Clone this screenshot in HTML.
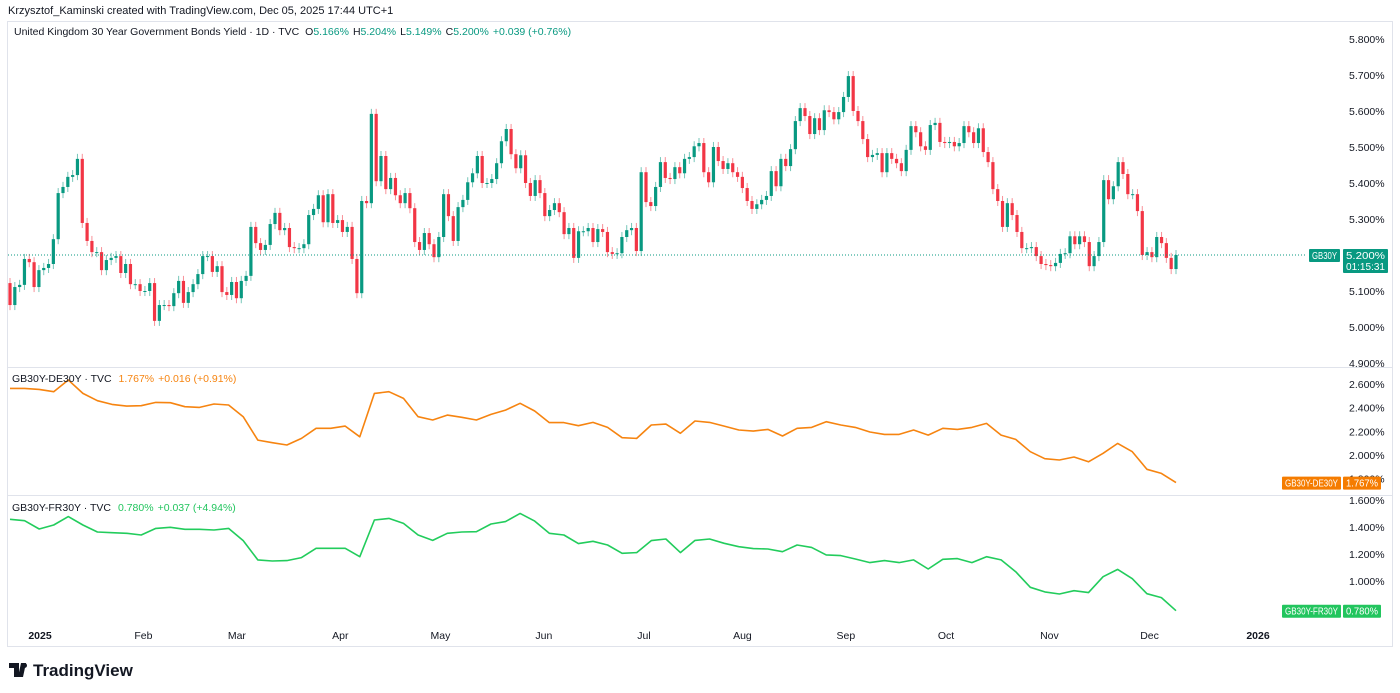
<!DOCTYPE html>
<html><head><meta charset="utf-8"><style>
html,body{margin:0;padding:0;background:#fff;}
svg{display:block;font-family:"Liberation Sans",sans-serif;}
</style></head><body>
<svg id="chart" width="1400" height="693" viewBox="0 0 1400 693" xmlns="http://www.w3.org/2000/svg">
<text x="8" y="14" font-size="11" fill="#131722">Krzysztof_Kaminski created with TradingView.com, Dec 05, 2025 17:44 UTC+1</text>
<rect x="7.5" y="21.5" width="1385" height="625" fill="#fff" stroke="#e0e3eb"/>
<line x1="8" y1="367.5" x2="1392" y2="367.5" stroke="#e0e3eb"/>
<line x1="8" y1="495.5" x2="1392" y2="495.5" stroke="#e0e3eb"/>
<g id="price-axis"></g>
<g id="candles"></g>
<g id="lines"></g>
<g id="time-axis"></g>
<g id="tags"></g>
<text x="14" y="35" font-size="10.5" fill="#131722">United Kingdom 30 Year Government Bonds Yield · 1D · TVC  <tspan dx="3">O</tspan><tspan fill="#089981">5.166%</tspan><tspan dx="4">H</tspan><tspan fill="#089981">5.204%</tspan><tspan dx="4">L</tspan><tspan fill="#089981">5.149%</tspan><tspan dx="4">C</tspan><tspan fill="#089981">5.200%</tspan><tspan dx="4" fill="#089981">+0.039 (+0.76%)</tspan></text>
<text x="12" y="382" font-size="10.5" fill="#131722">GB30Y-DE30Y · TVC <tspan dx="4" fill="#f68410">1.767%</tspan><tspan dx="4" fill="#f68410">+0.016 (+0.91%)</tspan></text>
<text x="12" y="511" font-size="10.5" fill="#131722">GB30Y-FR30Y · TVC <tspan dx="4" fill="#22c55e">0.780%</tspan><tspan dx="4" fill="#22c55e">+0.037 (+4.94%)</tspan></text>
<g>
<path d="M9 663h10v14h-5v-9H9z M21 663h5l-3 14h-5z" fill="#131722"/>
<circle cx="24.5" cy="665.5" r="2.5" fill="#131722"/>
<text x="33" y="676" font-size="17" font-weight="bold" fill="#131722">TradingView</text>
</g>
</svg>
<script>
const closes=[5.061,5.111,5.117,5.189,5.180,5.111,5.158,5.164,5.175,5.244,5.372,5.389,5.417,5.422,5.467,5.289,5.239,5.208,5.208,5.158,5.186,5.192,5.197,5.150,5.175,5.119,5.119,5.100,5.100,5.122,5.017,5.061,5.061,5.058,5.094,5.128,5.067,5.097,5.119,5.147,5.197,5.197,5.153,5.169,5.097,5.089,5.125,5.080,5.128,5.142,5.278,5.233,5.214,5.228,5.286,5.317,5.269,5.275,5.222,5.219,5.219,5.230,5.311,5.328,5.366,5.291,5.369,5.289,5.297,5.264,5.278,5.189,5.094,5.350,5.344,5.592,5.405,5.475,5.383,5.414,5.366,5.344,5.372,5.330,5.236,5.214,5.261,5.230,5.194,5.250,5.369,5.308,5.239,5.333,5.353,5.402,5.427,5.475,5.400,5.400,5.411,5.455,5.516,5.550,5.480,5.441,5.477,5.400,5.364,5.408,5.372,5.308,5.325,5.344,5.319,5.258,5.275,5.192,5.266,5.266,5.275,5.236,5.272,5.264,5.208,5.203,5.205,5.250,5.269,5.275,5.211,5.430,5.347,5.336,5.389,5.458,5.414,5.411,5.444,5.427,5.467,5.472,5.502,5.511,5.430,5.402,5.500,5.461,5.439,5.455,5.430,5.417,5.386,5.350,5.328,5.341,5.353,5.364,5.433,5.391,5.467,5.447,5.494,5.572,5.608,5.586,5.536,5.580,5.547,5.602,5.597,5.577,5.597,5.639,5.697,5.600,5.572,5.522,5.472,5.478,5.483,5.430,5.483,5.467,5.455,5.433,5.492,5.558,5.541,5.502,5.492,5.561,5.567,5.514,5.511,5.514,5.502,5.511,5.558,5.541,5.511,5.552,5.486,5.458,5.383,5.350,5.278,5.344,5.311,5.264,5.219,5.219,5.222,5.197,5.175,5.172,5.169,5.178,5.203,5.205,5.252,5.230,5.252,5.236,5.169,5.197,5.236,5.408,5.355,5.391,5.458,5.425,5.369,5.369,5.322,5.200,5.208,5.194,5.250,5.233,5.192,5.161,5.200];
const firstOpen=5.122;
const deSpread=[2.562,2.562,2.554,2.534,2.633,2.520,2.458,2.427,2.413,2.416,2.444,2.441,2.408,2.402,2.430,2.422,2.323,2.126,2.104,2.084,2.140,2.225,2.225,2.244,2.154,2.520,2.534,2.478,2.323,2.295,2.337,2.318,2.295,2.343,2.379,2.436,2.371,2.273,2.273,2.247,2.275,2.233,2.146,2.140,2.253,2.261,2.183,2.287,2.275,2.244,2.211,2.202,2.216,2.160,2.225,2.233,2.281,2.253,2.233,2.194,2.174,2.174,2.211,2.168,2.225,2.216,2.233,2.267,2.168,2.132,2.028,1.969,1.958,1.983,1.943,2.014,2.098,2.028,1.879,1.845,1.767];
const frSpread=[1.457,1.447,1.385,1.415,1.477,1.415,1.363,1.358,1.353,1.341,1.390,1.398,1.383,1.383,1.378,1.390,1.299,1.156,1.148,1.151,1.173,1.242,1.242,1.242,1.180,1.452,1.464,1.427,1.341,1.301,1.353,1.363,1.365,1.422,1.440,1.501,1.444,1.353,1.341,1.277,1.294,1.267,1.205,1.210,1.299,1.311,1.210,1.301,1.311,1.279,1.254,1.240,1.237,1.217,1.267,1.249,1.193,1.188,1.163,1.136,1.151,1.136,1.156,1.089,1.161,1.166,1.136,1.180,1.156,1.069,0.953,0.919,0.904,0.928,0.914,1.032,1.086,1.017,0.906,0.877,0.780];
const ticks1=["5.800%","5.700%","5.600%","5.500%","5.400%","5.300%","5.200%","5.100%","5.000%","4.900%"];
const ticks1v=[5.8,5.7,5.6,5.5,5.4,5.3,5.2,5.1,5.0,4.9];
const ticks2v=[2.6,2.4,2.2,2.0,1.8];
const ticks3v=[1.6,1.4,1.2,1.0];
const monthLabels=["2025","Feb","Mar","Apr","May","Jun","Jul","Aug","Sep","Oct","Nov","Dec","2026"];
const monthDays=[0,31,59,90,120,151,181,212,243,273,304,334,365];

const NS="http://www.w3.org/2000/svg";
function mk(tag,attrs,parent){const e=document.createElementNS(NS,tag);for(const k in attrs)e.setAttribute(k,attrs[k]);parent.appendChild(e);return e;}
const n=closes.length;
const xBar=i=>10+i*(1176-10)/(n-1);
const y1=v=>327-(v-5)*360;
const y2=v=>455-(v-2)*118.5;
const y3=v=>581-(v-1)*135;
const xDay=d=>40+d*(1258-40)/365-(d>200&&d<360?5:0);

const cg=document.getElementById('candles');
for(let i=0;i<n;i++){
  const o=i===0?firstOpen:closes[i-1], c=closes[i];
  const up=c>=o, col=up?'#089981':'#f23645';
  const hi=Math.max(o,c)+0.014, lo=Math.min(o,c)-0.014;
  const x=xBar(i);
  const w=mk('line',{x1:x,x2:x,y1:y1(hi),y2:y1(lo),stroke:col,'stroke-width':1,opacity:0.55},cg);
  
  
  const top=y1(Math.max(o,c)), h=Math.max(1,y1(Math.min(o,c))-top);
  const b=mk('rect',{x:x-1.6,y:top,width:3.2,height:h,fill:col},cg);
  
  
}
const lg=document.getElementById('lines');
function linePath(arr,yf){const step=(n-1)/(arr.length-1);return arr.map((v,k)=>(k?'L':'M')+xBar(k*step).toFixed(1)+' '+yf(v).toFixed(1)).join(' ');}
const l1=mk('path',{d:linePath(deSpread,y2),fill:'none',stroke:'#f68410','stroke-width':1.6,'stroke-linejoin':'round'},lg);


const l2=mk('path',{d:linePath(frSpread,y3),fill:'none',stroke:'#22cc5c','stroke-width':1.6,'stroke-linejoin':'round'},lg);


const last=mk('line',{x1:8,x2:1305,y1:y1(closes[n-1]),y2:y1(closes[n-1]),stroke:'#089981','stroke-dasharray':'1 2','stroke-width':1},lg);



const pa=document.getElementById('price-axis');
function tick(v,y,lbl){const t=mk('text',{x:1349,y:y+4,'font-size':10.5,fill:'#131722'},pa);t.textContent=lbl;

}
ticks1v.forEach((v,i)=>tick(v,y1(v),ticks1[i]));
ticks2v.forEach(v=>tick(v,y2(v),v.toFixed(3)+'%'));
ticks3v.forEach(v=>tick(v,y3(v),v.toFixed(3)+'%'));

const ta=document.getElementById('time-axis');
monthLabels.forEach((m,i)=>{const t=mk('text',{x:xDay(monthDays[i]),y:639,'font-size':10.5,fill:'#131722','text-anchor':'middle','font-weight':(m.length===4?'bold':'normal')},ta);t.textContent=m;

});

const tg=document.getElementById('tags');
function tag(x,y,w,h,col,txt,nm){const r=mk('rect',{x:x,y:y,width:w,height:h,fill:col,rx:1},tg);

txt.forEach((s,i)=>{const t=mk('text',{x:x+3,y:y+10+i*11,'font-size':10,fill:'#fff',textLength:w-6,lengthAdjust:'spacingAndGlyphs'},tg);t.textContent=s;});}
const yl=y1(closes[n-1]);
tag(1309,yl-6,31,13,'#089981',['GB30Y'],'symbol-tag');
tag(1343,yl-6,45,24,'#089981',['5.200%','01:15:31'],'last-price-tag');
const yd=y2(deSpread[deSpread.length-1]);
tag(1282,yd-6,59,13,'#f57c00',['GB30Y-DE30Y'],'de-symbol-tag');
tag(1343,yd-6,38,13,'#f57c00',['1.767%'],'de-price-tag');
const yf=y3(frSpread[frSpread.length-1]);
tag(1282,yf-6,59,13,'#22c55e',['GB30Y-FR30Y'],'fr-symbol-tag');
tag(1343,yf-6,38,13,'#22c55e',['0.780%'],'fr-price-tag');
</script>
</body></html>
